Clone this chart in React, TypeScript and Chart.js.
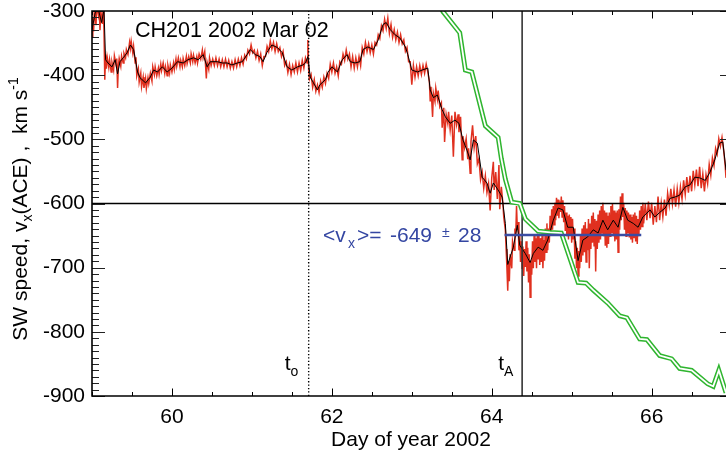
import React, { useEffect, useRef } from 'react';
import { Chart, registerables } from 'chart.js';

Chart.register(...registerables);

const FONT = '"Liberation Sans", Arial, Helvetica, sans-serif';
const RED = '#e0301f';
const GREEN = '#2fb52f';
const BLUE = '#3a4ca3';
const BLUE_TEXT = '#3446a2';

const X_MIN = 59.0;
const X_MAX = 66.93;
const Y_MIN = -900;
const Y_MAX = -300;
const X_TICKS = [60, 62, 64, 66];
const Y_TICKS = [-900, -800, -700, -600, -500, -400, -300];
const X_MINOR_STEP = 0.5;
const Y_MINOR_STEP = 10;

const REF_SPEED = -600;
const T_O = 61.71;
const T_A = 64.38;
const MEAN_VX = -649;
const MEAN_ERR = 28;
const MEAN_SPAN = [64.16, 65.87];

const TITLE = 'CH201 2002 Mar 02';
const X_TITLE = 'Day of year 2002';

// smoothed solar-wind speed (black)
const smoothed: [number, number][] = [
  [59.00,-329],[59.04,-303],[59.08,-298],[59.12,-318],[59.15,-298],[59.17,-376],[59.20,-381],[59.25,-387],[59.29,-376],[59.32,-398],
  [59.35,-379],[59.39,-373],[59.44,-365],[59.48,-353],[59.52,-360],[59.57,-395],[59.60,-404],[59.67,-412],[59.73,-403],[59.77,-392],
  [59.82,-395],[59.88,-387],[59.94,-395],[60.00,-389],[60.07,-379],[60.14,-381],[60.20,-376],[60.27,-373],[60.33,-376],[60.39,-368],
  [60.44,-387],[60.48,-379],[60.57,-379],[60.63,-381],[60.69,-381],[60.75,-384],[60.82,-381],[60.88,-379],[60.94,-368],[60.98,-360],
  [61.04,-368],[61.10,-371],[61.14,-379],[61.19,-364],[61.25,-353],[61.32,-357],[61.38,-365],[61.44,-387],[61.50,-392],[61.57,-387],
  [61.64,-384],[61.67,-381],[61.70,-371],[61.73,-403],[61.77,-412],[61.82,-423],[61.85,-415],[61.92,-407],[61.95,-396],[62.00,-387],
  [62.07,-395],[62.13,-376],[62.19,-368],[62.23,-379],[62.29,-381],[62.35,-379],[62.39,-360],[62.45,-356],[62.52,-360],[62.58,-345],
  [62.64,-321],[62.68,-318],[62.73,-329],[62.79,-337],[62.85,-342],[62.92,-356],[62.95,-368],[63.00,-392],[63.07,-395],[63.13,-392],
  [63.20,-389],[63.23,-423],[63.27,-435],[63.32,-431],[63.38,-454],[63.42,-465],[63.48,-475],[63.54,-470],[63.59,-475],[63.64,-501],
  [63.69,-517],[63.73,-532],[63.77,-501],[63.82,-506],[63.88,-559],[63.94,-568],[63.98,-584],[64.02,-568],[64.08,-579],[64.13,-590],
  [64.17,-631],[64.20,-695],[64.27,-668],[64.32,-634],[64.35,-665],[64.42,-678],[64.48,-692],[64.52,-678],[64.58,-668],[64.64,-673],
  [64.70,-657],[64.77,-626],[64.83,-607],[64.89,-610],[64.95,-637],[65.02,-637],[65.08,-689],[65.14,-657],[65.20,-652],[65.27,-641],
  [65.33,-646],[65.39,-626],[65.45,-641],[65.52,-626],[65.58,-637],[65.64,-606],[65.70,-626],[65.77,-631],[65.83,-637],[65.89,-621],
  [65.98,-610],[66.04,-621],[66.10,-614],[66.17,-607],[66.23,-592],[66.29,-590],[66.35,-587],[66.42,-574],[66.48,-571],[66.54,-559],
  [66.60,-560],[66.67,-564],[66.73,-551],[66.79,-532],[66.85,-506],[66.89,-504],[66.93,-548],
];

// raw high-resolution speed (red)
const raw: [number, number][] = [
  [59.00,-340],[59.01,-310],[59.02,-332],[59.03,-296],[59.05,-322],[59.06,-290],[59.08,-306],[59.09,-292],[59.10,-330],[59.11,-300],
  [59.13,-320],[59.14,-292],[59.15,-330],[59.16,-407],[59.17,-368],[59.18,-390],[59.19,-372],[59.21,-388],[59.22,-376],[59.24,-395],
  [59.25,-380],[59.27,-392],[59.28,-370],[59.30,-383],[59.31,-374],[59.32,-420],[59.33,-385],[59.34,-374],[59.36,-386],[59.37,-370],
  [59.39,-381],[59.40,-366],[59.42,-373],[59.43,-360],[59.45,-368],[59.47,-349],[59.48,-358],[59.49,-347],[59.51,-365],[59.52,-355],
  [59.54,-381],[59.55,-372],[59.56,-401],[59.58,-390],[59.59,-411],[59.61,-397],[59.62,-418],[59.64,-403],[59.65,-420],[59.67,-405],
  [59.68,-421],[59.70,-404],[59.71,-413],[59.73,-397],[59.75,-409],[59.76,-387],[59.78,-399],[59.79,-387],[59.81,-401],[59.83,-389],
  [59.84,-399],[59.86,-383],[59.87,-393],[59.89,-381],[59.91,-397],[59.92,-387],[59.94,-401],[59.95,-385],[59.97,-397],[59.98,-384],
  [60.00,-395],[60.02,-381],[60.03,-391],[60.05,-375],[60.06,-386],[60.08,-373],[60.10,-387],[60.11,-377],[60.13,-387],[60.14,-374],
  [60.16,-385],[60.18,-371],[60.19,-382],[60.21,-371],[60.23,-381],[60.24,-367],[60.26,-379],[60.27,-369],[60.29,-381],[60.31,-371],
  [60.32,-381],[60.34,-367],[60.36,-375],[60.38,-361],[60.39,-373],[60.41,-363],[60.43,-405],[60.44,-380],[60.46,-391],[60.47,-373],
  [60.49,-385],[60.51,-375],[60.53,-385],[60.55,-373],[60.57,-385],[60.59,-375],[60.61,-387],[60.63,-376],[60.65,-387],[60.67,-375],
  [60.69,-387],[60.71,-377],[60.73,-389],[60.75,-379],[60.77,-389],[60.79,-376],[60.81,-387],[60.83,-375],[60.85,-385],[60.87,-373],
  [60.89,-383],[60.91,-369],[60.93,-375],[60.95,-361],[60.97,-367],[60.99,-353],[61.01,-365],[61.03,-361],[61.05,-373],[61.07,-363],
  [61.09,-377],[61.11,-367],[61.13,-385],[61.15,-371],[61.17,-371],[61.19,-355],[61.21,-363],[61.23,-347],[61.25,-359],[61.27,-349],
  [61.29,-363],[61.31,-351],[61.33,-363],[61.35,-357],[61.37,-371],[61.39,-363],[61.41,-385],[61.43,-379],[61.45,-396],[61.47,-383],
  [61.49,-399],[61.51,-385],[61.53,-395],[61.55,-381],[61.57,-395],[61.59,-381],[61.61,-393],[61.63,-377],[61.65,-389],[61.67,-373],
  [61.69,-381],[61.70,-345],[61.71,-393],[61.72,-406],[61.74,-399],[61.76,-419],[61.78,-407],[61.80,-425],[61.82,-415],[61.84,-427],
  [61.86,-409],[61.88,-419],[61.90,-403],[61.92,-413],[61.94,-397],[61.96,-405],[61.98,-383],[62.00,-395],[62.02,-381],[62.04,-397],
  [62.06,-387],[62.08,-401],[62.10,-379],[62.12,-383],[62.14,-367],[62.16,-377],[62.18,-361],[62.20,-375],[62.22,-367],[62.24,-387],
  [62.26,-371],[62.28,-389],[62.30,-373],[62.32,-387],[62.34,-371],[62.36,-385],[62.38,-357],[62.40,-367],[62.42,-349],[62.44,-363],
  [62.46,-351],[62.48,-365],[62.50,-353],[62.52,-367],[62.54,-349],[62.56,-353],[62.58,-337],[62.60,-343],[62.62,-323],[62.64,-331],
  [62.66,-313],[62.68,-327],[62.70,-311],[62.72,-335],[62.74,-321],[62.76,-341],[62.78,-329],[62.80,-345],[62.82,-333],[62.84,-349],
  [62.86,-337],[62.88,-351],[62.90,-345],[62.92,-363],[62.94,-357],[62.96,-379],[62.98,-379],[63.00,-415],[63.02,-385],[63.04,-403],
  [63.06,-387],[63.08,-401],[63.10,-385],[63.12,-399],[63.14,-385],[63.16,-397],[63.18,-383],[63.20,-395],[63.22,-410],[63.23,-440],
  [63.24,-418],[63.26,-465],[63.27,-428],[63.29,-441],[63.30,-420],[63.32,-437],[63.33,-424],[63.35,-449],[63.37,-443],[63.38,-482],
  [63.40,-451],[63.41,-504],[63.43,-461],[63.45,-475],[63.46,-457],[63.48,-485],[63.50,-463],[63.52,-527],[63.54,-457],[63.56,-477],
  [63.58,-461],[63.59,-489],[63.61,-465],[63.63,-532],[63.64,-495],[63.66,-513],[63.68,-499],[63.70,-531],[63.71,-514],[63.73,-553],
  [63.74,-504],[63.76,-478],[63.78,-513],[63.80,-495],[63.82,-538],[63.84,-530],[63.86,-563],[63.88,-551],[63.90,-576],[63.92,-557],
  [63.94,-583],[63.96,-569],[63.98,-611],[64.00,-560],[64.02,-535],[64.03,-579],[64.05,-551],[64.07,-593],[64.09,-540],[64.10,-609],
  [64.12,-574],[64.14,-601],[64.15,-621],[64.17,-641],[64.18,-671],[64.19,-701],[64.20,-736],[64.21,-690],[64.22,-721],[64.23,-679],
  [64.25,-701],[64.26,-659],[64.28,-673],[64.29,-639],[64.30,-651],[64.31,-604],[64.32,-641],[64.33,-629],[64.34,-673],[64.35,-649],
  [64.36,-691],[64.37,-659],[64.38,-701],[64.39,-667],[64.40,-713],[64.41,-671],[64.42,-699],[64.43,-659],[64.44,-706],[64.45,-669],
  [64.46,-723],[64.47,-679],[64.48,-746],[64.49,-689],[64.50,-711],[64.51,-659],[64.52,-701],[64.53,-649],[64.54,-691],[64.55,-654],
  [64.56,-701],[64.57,-647],[64.58,-686],[64.59,-649],[64.60,-696],[64.61,-654],[64.62,-691],[64.63,-649],[64.64,-701],[64.65,-657],
  [64.66,-689],[64.67,-639],[64.68,-676],[64.69,-631],[64.70,-673],[64.71,-639],[64.72,-661],[64.73,-619],[64.74,-649],[64.75,-609],
  [64.76,-641],[64.77,-604],[64.78,-633],[64.79,-599],[64.80,-626],[64.81,-591],[64.82,-619],[64.83,-594],[64.84,-623],[64.85,-597],
  [64.86,-613],[64.87,-589],[64.88,-621],[64.89,-595],[64.90,-629],[64.91,-604],[64.92,-643],[64.93,-614],[64.94,-651],[64.95,-619],
  [64.96,-656],[64.97,-617],[64.98,-649],[64.99,-621],[65.00,-661],[65.01,-624],[65.02,-656],[65.03,-639],[65.04,-686],[65.05,-659],
  [65.06,-701],[65.07,-669],[65.08,-713],[65.09,-674],[65.10,-701],[65.11,-649],[65.12,-691],[65.13,-639],[65.14,-681],[65.15,-634],
  [65.16,-676],[65.17,-629],[65.18,-691],[65.19,-639],[65.20,-673],[65.21,-624],[65.22,-701],[65.23,-631],[65.24,-671],[65.25,-619],
  [65.26,-661],[65.27,-614],[65.28,-666],[65.29,-624],[65.30,-706],[65.31,-627],[65.32,-671],[65.33,-617],[65.34,-661],[65.35,-611],
  [65.36,-656],[65.37,-604],[65.38,-646],[65.39,-599],[65.40,-651],[65.41,-611],[65.42,-666],[65.43,-614],[65.44,-669],[65.45,-619],
  [65.46,-663],[65.47,-614],[65.48,-651],[65.49,-604],[65.50,-646],[65.51,-601],[65.52,-651],[65.53,-611],[65.54,-659],[65.55,-614],
  [65.56,-656],[65.57,-611],[65.58,-676],[65.59,-609],[65.60,-641],[65.61,-589],[65.62,-626],[65.63,-584],[65.64,-621],[65.65,-599],
  [65.66,-641],[65.67,-607],[65.68,-651],[65.69,-611],[65.70,-646],[65.71,-614],[65.72,-653],[65.73,-617],[65.74,-656],[65.75,-621],
  [65.76,-661],[65.77,-617],[65.78,-653],[65.79,-614],[65.80,-659],[65.81,-619],[65.82,-663],[65.83,-624],[65.84,-651],[65.85,-611],
  [65.86,-641],[65.87,-604],[65.88,-636],[65.89,-599],[65.90,-631],[65.92,-601],[65.94,-626],[65.96,-597],[65.98,-623],[66.00,-599],
  [66.02,-633],[66.04,-604],[66.06,-629],[66.08,-589],[66.10,-626],[66.12,-599],[66.14,-621],[66.16,-594],[66.18,-619],[66.20,-584],
  [66.22,-603],[66.24,-577],[66.26,-601],[66.28,-579],[66.30,-605],[66.32,-577],[66.34,-599],[66.36,-574],[66.38,-593],[66.40,-564],
  [66.42,-586],[66.44,-559],[66.46,-583],[66.48,-557],[66.50,-581],[66.52,-549],[66.54,-571],[66.56,-547],[66.58,-573],[66.60,-543],
  [66.62,-576],[66.64,-554],[66.66,-581],[66.68,-555],[66.70,-569],[66.72,-539],[66.74,-556],[66.76,-529],[66.78,-541],[66.80,-514],
  [66.82,-523],[66.84,-499],[66.86,-511],[66.88,-497],[66.90,-516],[66.92,-541],[66.93,-560],
];

// model curve (green double line)
const model: [number, number][] = [
  [63.35,-290],[63.39,-301],[63.60,-334],[63.67,-392],[63.75,-395],[63.92,-479],[64.08,-497],[64.12,-530],[64.17,-562],[64.25,-598],
  [64.35,-600],[64.42,-624],[64.58,-643],[64.73,-645],[64.87,-646],[65.08,-723],[65.18,-724],[65.27,-735],[65.45,-755],[65.60,-775],
  [65.69,-778],[65.85,-811],[65.94,-812],[66.10,-837],[66.25,-842],[66.35,-857],[66.50,-860],[66.70,-881],[66.77,-885],[66.84,-860],
  [66.93,-895],
];

type Piece = { text: string; size: number; dy: number };

function drawPieces(ctx: CanvasRenderingContext2D, pieces: Piece[], x0: number, y0: number) {
  let x = x0;
  for (const p of pieces) {
    ctx.font = `${p.size}px ${FONT}`;
    ctx.fillText(p.text, x, y0 + p.dy);
    x += ctx.measureText(p.text).width;
  }
}

function piecesWidth(ctx: CanvasRenderingContext2D, pieces: Piece[]) {
  let w = 0;
  for (const p of pieces) {
    ctx.font = `${p.size}px ${FONT}`;
    w += ctx.measureText(p.text).width;
  }
  return w;
}

const decorPlugin = {
  id: 'decor',
  afterDatasetsDraw(chart: any) {
    const { ctx, chartArea: a, scales } = chart;
    const xs = scales.x;
    const ys = scales.y;
    ctx.save();

    // y ticks (inside)
    ctx.strokeStyle = '#222';
    ctx.lineWidth = 1;
    for (let v = Y_MIN; v <= Y_MAX; v += Y_MINOR_STEP) {
      const py = Math.round(ys.getPixelForValue(v)) + 0.5;
      const major = v % 100 === 0;
      ctx.beginPath();
      ctx.moveTo(a.left, py);
      ctx.lineTo(a.left + (major ? 13 : 7), py);
      if (major) {
        ctx.moveTo(a.right, py);
        ctx.lineTo(a.right - 6, py);
      }
      ctx.stroke();
    }
    // x ticks (inside, top and bottom)
    ctx.strokeStyle = '#000';
    for (let d = Math.ceil(X_MIN / X_MINOR_STEP) * X_MINOR_STEP; d <= X_MAX; d += X_MINOR_STEP) {
      const px = Math.round(xs.getPixelForValue(d)) + 0.5;
      const major = X_TICKS.includes(d);
      const len = major ? 7.5 : 4;
      ctx.beginPath();
      ctx.moveTo(px, a.bottom);
      ctx.lineTo(px, a.bottom - len);
      ctx.moveTo(px, a.top);
      ctx.lineTo(px, a.top + len);
      ctx.stroke();
    }
    // frame (left, top, bottom)
    ctx.lineWidth = 1.6;
    ctx.beginPath();
    ctx.moveTo(a.right + 2, a.top);
    ctx.lineTo(a.left, a.top);
    ctx.lineTo(a.left, a.bottom);
    ctx.lineTo(a.right + 2, a.bottom);
    ctx.stroke();

    ctx.fillStyle = '#000';
    ctx.textBaseline = 'alphabetic';
    ctx.textAlign = 'left';

    // title
    ctx.font = `21.5px ${FONT}`;
    ctx.fillText(TITLE, 135, 37);

    // x title
    ctx.font = `21px ${FONT}`;
    ctx.textAlign = 'center';
    ctx.fillText(X_TITLE, 411, 446);
    ctx.textAlign = 'left';

    // y title (rotated)
    const yPieces: Piece[] = [
      { text: 'SW speed, v', size: 21, dy: 0 },
      { text: 'x', size: 14, dy: 5 },
      { text: '(ACE) ,  km s', size: 21, dy: 0 },
      { text: '-1', size: 14, dy: -9 },
    ];
    const yw = piecesWidth(ctx, yPieces);
    ctx.save();
    ctx.translate(27, 209);
    ctx.rotate(-Math.PI / 2);
    drawPieces(ctx, yPieces, -yw / 2, 0);
    ctx.restore();

    // t_o and t_A labels
    const px0 = xs.getPixelForValue(T_O);
    const pxA = xs.getPixelForValue(T_A);
    drawPieces(ctx, [{ text: 't', size: 21, dy: 0 }, { text: 'o', size: 14, dy: 6 }], px0 - 24, 370);
    drawPieces(ctx, [{ text: 't', size: 21, dy: 0 }, { text: 'A', size: 14, dy: 6 }], pxA - 24, 370);

    // mean annotation
    ctx.fillStyle = BLUE_TEXT;
    const base = 242;
    ctx.font = `21px ${FONT}`;
    ctx.fillText('<v', 323, base);
    ctx.font = `14px ${FONT}`;
    ctx.fillText('x', 348, base + 6);
    ctx.font = `21px ${FONT}`;
    ctx.fillText('>=', 357, base);
    ctx.fillText(String(MEAN_VX), 390, base);
    ctx.font = `14px ${FONT}`;
    ctx.fillText('\u00B1', 442, base - 5);
    ctx.font = `21px ${FONT}`;
    ctx.fillText(String(MEAN_ERR), 458, base);

    ctx.restore();
  },
};

export default function App() {
  const ref = useRef<HTMLCanvasElement>(null);
  useEffect(() => {
    const toXY = (arr: [number, number][]) => arr.map(([x, y]) => ({ x, y }));
    const line = (data: any[], color: string, width: number, order: number, extra: any = {}) => ({
      data,
      borderColor: color,
      borderWidth: width,
      pointRadius: 0,
      tension: 0,
      fill: false,
      clip: 0,
      order,
      ...extra,
    });
    const chart = new Chart(ref.current as HTMLCanvasElement, {
      type: 'line',
      data: {
        datasets: [
          line([{ x: MEAN_SPAN[0], y: MEAN_VX }, { x: MEAN_SPAN[1], y: MEAN_VX }], BLUE, 2.6, 0),
          line(toXY(model), '#ffffff', 1.8, 1),
          line(toXY(model), GREEN, 4.8, 2),
          line([{ x: T_A, y: Y_MIN }, { x: T_A, y: Y_MAX }], '#333', 1.6, 3),
          line([{ x: T_O, y: Y_MIN }, { x: T_O, y: Y_MAX }], '#000', 1.4, 3, { borderDash: [1.3, 2.1] }),
          line([{ x: X_MIN, y: REF_SPEED }, { x: X_MAX, y: REF_SPEED }], '#000', 1.3, 3),
          line(toXY(smoothed), '#000', 1, 4),
          line(toXY(raw), RED, 1.5, 5),
        ] as any,
      },
      options: {
        responsive: false,
        animation: false,
        devicePixelRatio: 1,
        events: [],
        layout: { padding: { top: 11, right: 0, bottom: 0, left: 0 } },
        plugins: { legend: { display: false }, tooltip: { enabled: false }, title: { display: false } },
        scales: {
          x: {
            type: 'linear',
            min: X_MIN,
            max: X_MAX,
            grid: { display: false, drawTicks: false },
            border: { display: false },
            afterBuildTicks: (s: any) => { s.ticks = X_TICKS.map((v) => ({ value: v })); },
            afterFit: (s: any) => { s.height = 56; s.paddingLeft = 0; s.paddingRight = 0; },
            ticks: {
              padding: 9, color: '#000', autoSkip: false, maxRotation: 0,
              font: { family: FONT, size: 21 },
              callback: (v: any) => String(v),
            },
          },
          y: {
            type: 'linear',
            min: Y_MIN,
            max: Y_MAX,
            grid: { display: false, drawTicks: false },
            border: { display: false },
            afterBuildTicks: (s: any) => { s.ticks = Y_TICKS.map((v) => ({ value: v })); },
            afterFit: (s: any) => { s.width = 92; s.paddingTop = 0; s.paddingBottom = 0; },
            ticks: {
              padding: 7, color: '#000', autoSkip: false,
              font: { family: FONT, size: 21 },
              callback: (v: any) => String(v),
            },
          },
        },
      } as any,
      plugins: [decorPlugin],
    });
    return () => chart.destroy();
  }, []);
  return (
    <div style={{ position: 'fixed', left: 0, top: 0, width: 726, height: 452, background: '#fff' }}>
      <canvas ref={ref} width={726} height={452} style={{ display: 'block' }} />
    </div>
  );
}
